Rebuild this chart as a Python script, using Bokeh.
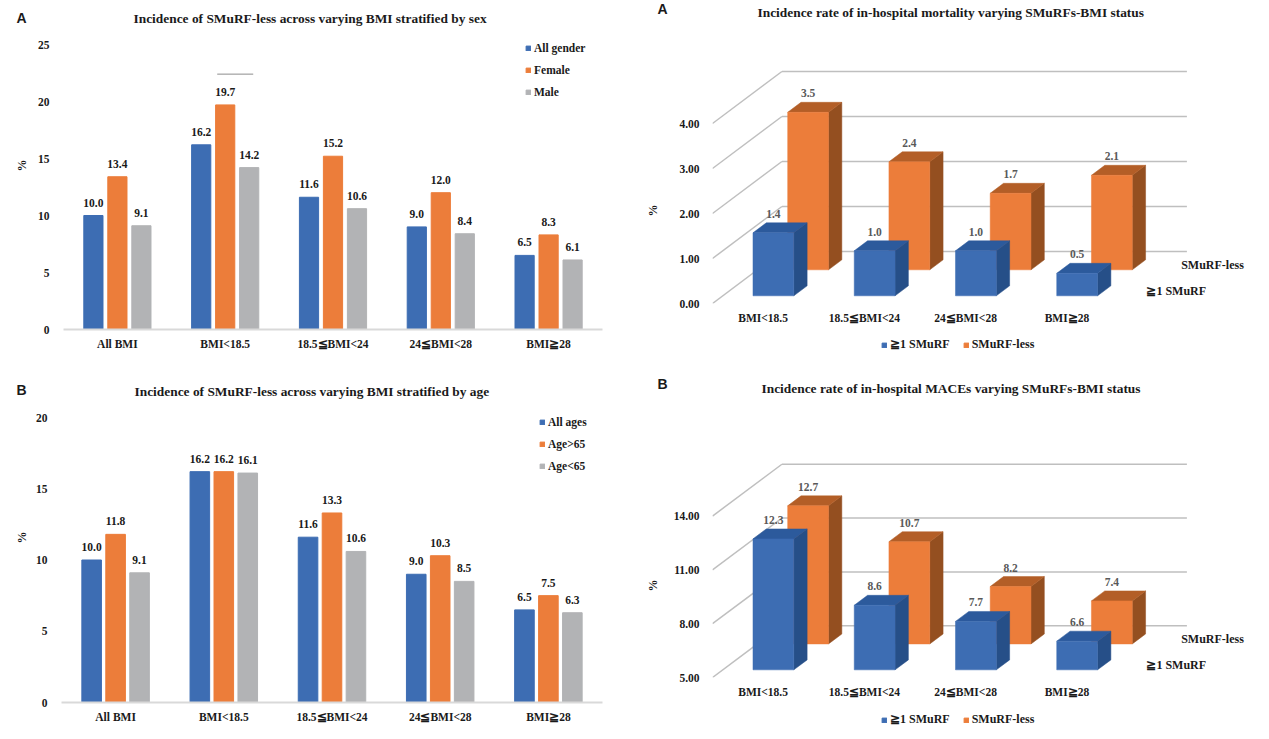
from bokeh.embed import file_html
from bokeh.resources import INLINE
from bokeh.plotting import figure
from bokeh.layouts import column, row
from bokeh.models import (FactorRange, Range1d, FixedTicker, Legend, LegendItem,
                          PrintfTickFormatter, ColumnDataSource)
from bokeh.transform import dodge
from bokeh.core.properties import value

# ---------- data ----------
CATS = ["All BMI", "BMI<18.5", "18.5≦BMI<24", "24≦BMI<28", "BMI≧28"]
SEX_NAMES = ["All gender", "Female", "Male"]
SEX_ALL = [10.0, 16.2, 11.6, 9.0, 6.5]
SEX_FEMALE = [13.4, 19.7, 15.2, 12.0, 8.3]
SEX_MALE = [9.1, 14.2, 10.6, 8.4, 6.1]
AGE_NAMES = ["All ages", "Age>65", "Age<65"]
AGE_ALL = [10.0, 16.2, 11.6, 9.0, 6.5]
AGE_OVER = [11.8, 16.2, 13.3, 10.3, 7.5]
AGE_UNDER = [9.1, 16.1, 10.6, 8.5, 6.3]
TICKS_SEX = [0, 5, 10, 15, 20, 25]
TICKS_AGE = [0, 5, 10, 15, 20]

GROUPS = ["BMI<18.5", "18.5≦BMI<24", "24≦BMI<28", "BMI≧28"]
DEPTH_NAMES = ["≧1 SMuRF", "SMuRF-less"]
MORT_SMURF = [1.4, 1.0, 1.0, 0.5]
MORT_LESS = [3.5, 2.4, 1.7, 2.1]
MACE_SMURF = [12.3, 8.6, 7.7, 6.6]
MACE_LESS = [12.7, 10.7, 8.2, 7.4]
TICKS_MORT = [0, 1, 2, 3, 4]
TICKS_MACE = [5, 8, 11, 14]

# ---------- style ----------
BLUE, BLUE_TOP, BLUE_SIDE = "#3D6DB3", "#2C5A9C", "#264F88"
ORANGE, ORANGE_TOP, ORANGE_SIDE = "#EC7D3A", "#B35E27", "#944F20"
GRAY = "#B2B3B5"
GRID = "#BFBFBF"
INK = "#1A1A1A"
SERIF = "Liberation Serif"
SANS = "Liberation Sans"

PAGE_W = 1268
COL_X = 634
ROW_Y = 374
PAGE_H = 738
GUT_L, GUT_R = 32, 34          # widths of the strips holding panel letter and "%"
STRIP_H = 38                   # height of the strip holding the 3-D legends


def blank(ox, oy, w, h):
    """A figure whose frame fills it, ranged in page pixels, for texts that sit outside a chart frame."""
    p = figure(width=w, height=h, x_range=Range1d(ox, ox + w), y_range=Range1d(oy + h, oy),
               output_backend="svg", toolbar_location=None, min_border=0,
               x_axis_location=None, y_axis_location=None)
    p.frame_align = False
    p.grid.visible = False
    p.outline_line_color = None
    return p


def gutter(ox, oy, h, w, letter, letter_xy, pct_xy):
    p = blank(ox, oy, w, h)
    p.text(x=[letter_xy[0]], y=[letter_xy[1]], text=[letter], text_font=value(SANS),
           text_font_style="bold", text_font_size="14px", text_color=INK,
           text_align="center", text_baseline="middle")
    p.text(x=[pct_xy[0]], y=[pct_xy[1]], text=["%"], text_font=value(SERIF), text_font_style="bold",
           text_font_size="12px", text_color=INK, text_align="center", text_baseline="middle",
           angle=90, angle_units="deg")
    return p


def legend_strip(ox, oy, w, legend_xy):
    p = blank(ox, oy, w, STRIP_H)
    colors = [BLUE, ORANGE]
    rs = [p.rect(x=[float("nan")], y=[float("nan")], width=1, height=1, fill_color=c, line_color=c)
          for c in colors]
    leg = Legend(items=[LegendItem(label=n, renderers=[r]) for n, r in zip(DEPTH_NAMES, rs)],
                 location=legend_xy, orientation="horizontal", glyph_width=6, glyph_height=6,
                 label_standoff=3, spacing=13, padding=0, margin=0, background_fill_alpha=0,
                 border_line_alpha=0, label_text_font=SERIF, label_text_font_style="bold",
                 label_text_font_size="12px", label_text_color=INK, label_height=14)
    p.add_layout(leg, "center")
    return p


def style_common(p):
    p.frame_align = False
    p.grid.visible = False
    p.outline_line_color = None
    p.background_fill_color = "white"
    p.border_fill_color = "white"
    for ax in (p.xaxis[0], p.yaxis[0]):
        ax.major_tick_line_color = None
        ax.minor_tick_line_color = None
        ax.major_tick_in = 0
        ax.major_tick_out = 0
        ax.minor_tick_in = 0
        ax.minor_tick_out = 0
        ax.major_label_text_font = SERIF
        ax.major_label_text_font_style = "bold"
        ax.major_label_text_font_size = "11.5px"
        ax.major_label_text_color = INK
    p.yaxis[0].axis_line_color = None


def frame_top(oy, title_py):
    """The title sits a little below the middle of the band above the frame, so the frame top follows it."""
    return oy + 2 * (title_py - oy) - 4


def title_of(p, text, frame_x0, oy, title_px, title_py):
    p.title.text = text
    p.title.text_font = SERIF
    p.title.text_font_size = "13.4px"
    p.title.text_font_style = "bold"
    p.title.text_color = INK
    p.title.align = "left"
    p.title.offset = title_px - frame_x0
    p.title.standoff = max(0, frame_top(oy, title_py) - oy - 19)


def bar_chart(ox, oy, w, h, fx0, fx1, fy_bot, unit_px, ticks, series, names, title, title_px, title_py,
              legend_xy, bar_w, step):
    fy_top = frame_top(oy, title_py)
    p = figure(width=w, height=h, x_range=FactorRange(factors=CATS, range_padding=0),
               y_range=Range1d(0, (fy_bot - fy_top) / unit_px), output_backend="svg", toolbar_location=None,
               min_border_left=fx0 - ox, min_border_right=ox + w - fx1,
               min_border_top=fy_top - oy, min_border_bottom=oy + h - fy_bot)
    style_common(p)
    p.xaxis[0].axis_line_color = "#D9D9D9"
    p.xaxis[0].axis_line_width = 2
    p.xaxis[0].major_label_standoff = 8
    p.yaxis[0].major_label_standoff = 14
    p.yaxis[0].ticker = FixedTicker(ticks=ticks)
    title_of(p, title, fx0, oy, title_px, title_py)
    colors = [BLUE, ORANGE, GRAY]
    rs = []
    for k, vals in enumerate(series):
        off = (k - 1) * step
        src = ColumnDataSource(dict(cat=CATS, top=vals, lab=[f"{v:.1f}" for v in vals]))
        r = p.vbar(x=dodge("cat", off, range=p.x_range), top="top", width=bar_w, bottom=0,
                   color=colors[k], source=src)
        p.text(x=dodge("cat", off, range=p.x_range), y="top", text="lab", source=src,
               text_font=value(SERIF), text_font_style="bold", text_font_size="11.5px",
               text_color=INK, text_align="center", text_baseline="middle", y_offset=-13)
        rs.append(r)
    leg = Legend(items=[LegendItem(label=n, renderers=[r]) for n, r in zip(names, rs)],
                 location=legend_xy, orientation="vertical", glyph_width=6, glyph_height=6,
                 label_standoff=3, spacing=8, padding=0, margin=0, background_fill_alpha=0,
                 border_line_alpha=0, label_text_font=SERIF, label_text_font_style="bold",
                 label_text_font_size="11.5px", label_text_color=INK, label_height=14)
    p.add_layout(leg, "center")
    return p


def chart_3d(ox, oy, w, h, fy_bot, v0, unit_px, ticks, smurf, less, title, title_px, title_py):
    fx0, fx1 = 712, ox + w
    fy_top = frame_top(oy, title_py)
    band_px = 101.25
    depth_dx, depth_dy = 69.4, 52.0
    p = figure(width=w, height=h,
               x_range=Range1d(0, (fx1 - fx0) / band_px),
               y_range=Range1d(v0, v0 + (fy_bot - fy_top) / unit_px),
               output_backend="svg", toolbar_location=None,
               min_border_left=fx0 - ox, min_border_right=0,
               min_border_top=fy_top - oy, min_border_bottom=oy + h - fy_bot)
    style_common(p)
    p.xaxis[0].axis_line_color = None
    p.xaxis[0].major_label_standoff = 8
    p.yaxis[0].major_label_standoff = 13
    p.yaxis[0].ticker = FixedTicker(ticks=ticks)
    p.yaxis[0].formatter = PrintfTickFormatter(format="%.2f")
    p.xaxis[0].ticker = FixedTicker(ticks=[i + 0.5 for i in range(len(GROUPS))])
    p.xaxis[0].major_label_overrides = {i + 0.5: g for i, g in enumerate(GROUPS)}
    title_of(p, title, fx0, oy, title_px, title_py)

    def X(band, t):
        return band + t * depth_dx / band_px

    def Y(v, t):
        return v + t * depth_dy / unit_px

    # side-wall and back-wall lines
    for v in ticks:
        p.line([X(0, 0), X(0, 1)], [Y(v, 0), Y(v, 1)], line_color=GRID, line_width=1.5)
        p.line([X(0, 1), X(len(GROUPS), 1)], [Y(v, 1), Y(v, 1)], line_color=GRID, line_width=1.5)

    bar_w, t_len = 0.403, 0.192
    pad = (1 - bar_w) / 2

    def bars(vals, t0, front, top, side):
        f_x, f_y, t_x, t_y, s_x, s_y = [], [], [], [], [], []
        lx, ly, lab = [], [], []
        for i, v in enumerate(vals):
            a, b, t1 = i + pad, i + pad + bar_w, t0 + t_len
            f_x.append([X(a, t0), X(b, t0), X(b, t0), X(a, t0)])
            f_y.append([Y(v0, t0), Y(v0, t0), Y(v, t0), Y(v, t0)])
            t_x.append([X(a, t0), X(b, t0), X(b, t1), X(a, t1)])
            t_y.append([Y(v, t0), Y(v, t0), Y(v, t1), Y(v, t1)])
            s_x.append([X(b, t0), X(b, t1), X(b, t1), X(b, t0)])
            s_y.append([Y(v0, t0), Y(v0, t1), Y(v, t1), Y(v, t0)])
            lx.append(X(i + 0.5, t0))
            ly.append(Y(v, t1))
            lab.append(f"{v:.1f}")
        p.patches(s_x, s_y, fill_color=side, line_color=side, line_width=0.5)
        p.patches(t_x, t_y, fill_color=top, line_color=top, line_width=0.5)
        p.patches(f_x, f_y, fill_color=front, line_color=front, line_width=0.5)
        p.text(x=lx, y=ly, text=lab, text_font=value(SERIF), text_font_style="bold",
               text_font_size="11.5px", text_color="#595959", text_align="center",
               text_baseline="middle", y_offset=-9)

    t_less, t_smurf = 0.648, 0.148
    bars(less, t_less, ORANGE, ORANGE_TOP, ORANGE_SIDE)
    bars(smurf, t_smurf, BLUE, BLUE_TOP, BLUE_SIDE)

    # depth-axis labels
    n = len(GROUPS)
    p.text(x=[X(n, t_smurf + t_len / 2), X(n, t_less + t_len / 2)],
           y=[Y(v0, t_smurf + t_len / 2), Y(v0, t_less + t_len / 2)],
           text=DEPTH_NAMES, text_font=value(SERIF), text_font_style="bold", text_font_size="12px",
           text_color=INK, text_align="left", text_baseline="middle", x_offset=12)
    return p


# left column
top_h, bot_h = ROW_Y, PAGE_H - ROW_Y
g_a = gutter(0, 0, top_h, GUT_L, "A", (21, 17), (21, 165))
a = bar_chart(GUT_L, 0, COL_X - GUT_L, top_h, 63, 602, 329, 11.4, TICKS_SEX,
              [SEX_ALL, SEX_FEMALE, SEX_MALE], SEX_NAMES,
              "Incidence of SMuRF-less across varying BMI stratified by sex", 133, 18,
              (462, 230), 0.178, 0.2226)
a.segment(x0=dodge("cat", -0.074, range=a.x_range), x1=dodge("cat", 0.26, range=a.x_range), y0="y", y1="y",
          source=ColumnDataSource(dict(cat=[CATS[1]], y=[22.4])), line_color="#8C8C8C", line_width=1)

g_b = gutter(0, ROW_Y, bot_h, GUT_L, "B", (21, 389), (21, 537))
b = bar_chart(GUT_L, ROW_Y, COL_X - GUT_L, bot_h, 60, 602, 702, 14.25, TICKS_AGE,
              [AGE_ALL, AGE_OVER, AGE_UNDER], AGE_NAMES,
              "Incidence of SMuRF-less across varying BMI stratified by age", 133, 391,
              (478, 229), 0.181, 0.2214)

# right column
rx = COL_X + GUT_R
rw = PAGE_W - rx
g_c = gutter(COL_X, 0, top_h, GUT_R, "A", (662, 8), (652, 210))
c = chart_3d(rx, 0, rw, top_h - STRIP_H, 303, 0, 45.0, TICKS_MORT, MORT_SMURF, MORT_LESS,
             "Incidence rate of in-hospital mortality varying SMuRFs-BMI status", 757, 12)
s_c = legend_strip(rx, top_h - STRIP_H, rw, (881 - rx, 22))

g_d = gutter(COL_X, ROW_Y, bot_h, GUT_R, "B", (662, 383), (652, 585))
d = chart_3d(rx, ROW_Y, rw, bot_h - STRIP_H, 678, 5, 18.0, TICKS_MACE, MACE_SMURF, MACE_LESS,
             "Incidence rate of in-hospital MACEs varying SMuRFs-BMI status", 761, 388)
s_d = legend_strip(rx, PAGE_H - STRIP_H, rw, (881 - rx, 11))

layout = column(
    row(g_a, a, g_c, column(c, s_c, spacing=0), spacing=0),
    row(g_b, b, g_d, column(d, s_d, spacing=0), spacing=0),
    spacing=0,
)
open("out.html", "w").write(file_html(layout, INLINE))
